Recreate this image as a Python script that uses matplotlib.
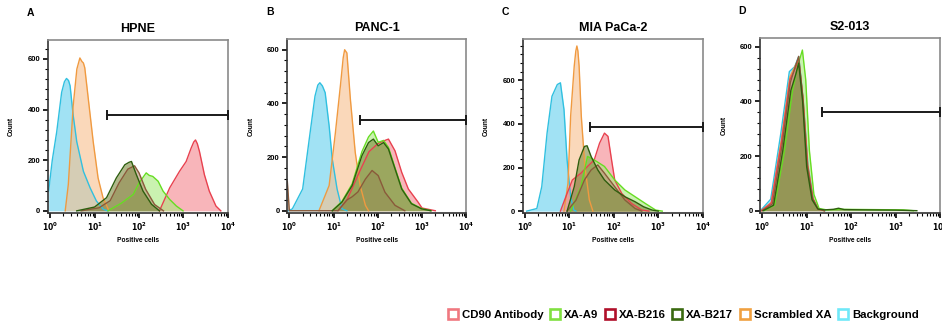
import matplotlib
matplotlib.use("Agg")
import matplotlib.pyplot as plt
from matplotlib.lines import Line2D
from matplotlib.ticker import FixedLocator, NullFormatter

plt.rcParams['font.family'] = ['Liberation Sans', 'DejaVu Sans']
plt.rcParams['font.weight'] = 'bold'

# series names and colours (fill, line, legend square)
series = ['CD90 Antibody', 'XA-A9', 'XA-B216', 'XA-B217', 'Scrambled XA', 'Background']
fills = ['#f4858c', '#a8ea7c', '#b89478', '#7d8a3c', '#f8bf8c', '#62d0ee']
lines = ['#e8414f', '#66dd22', '#8a5a3a', '#2e5e0e', '#f09a40', '#30c0e0']
legend_cols = ['#f07880', '#80e040', '#b0102a', '#3a6a10', '#f0a040', '#70e8f8']
draw_order = ['Background', 'Scrambled XA', 'CD90 Antibody', 'XA-A9', 'XA-B216', 'XA-B217']

# ---- A: HPNE  (positive cells, count) ----
hpne_background = ([0.93, 1.12, 1.41, 1.82, 2.1, 2.34, 2.6, 2.82, 3.31, 3.98, 5.62, 7.94, 11.0, 15.8, 20.0],
                   [80, 200, 312, 468, 510, 523, 515, 494, 377, 273, 156, 91, 39, 6, 0])
hpne_scrambled = ([2.19, 2.57, 3.31, 4.0, 4.68, 5.2, 5.62, 6.03, 7.24, 9.33, 12.0, 15.5, 20.4],
                  [0, 104, 416, 560, 604, 590, 584, 565, 442, 273, 130, 52, 6])
hpne_b217 = ([3.98, 10, 18.6, 30.9, 47.9, 60, 67.6, 87.1, 123, 191, 288],
             [0, 15, 52, 130, 182, 192, 195, 143, 78, 26, 0])
hpne_b216 = ([5.0, 12.6, 22.4, 35.5, 56.2, 79.4, 100, 141, 224, 355],
             [0, 12, 40, 110, 165, 178, 150, 85, 25, 0])
hpne_a9 = ([20, 39.8, 74.1, 100, 145, 170, 204, 269, 347, 490, 692, 977],
           [0, 30, 65, 110, 150, 140, 136, 117, 78, 45, 19, 0])
hpne_cd90 = ([288, 490, 813, 1148, 1479, 1700, 1862, 2050, 2291, 2951, 3802, 5370, 6918],
             [0, 91, 156, 195, 247, 272, 280, 265, 234, 143, 78, 19, 0])
hpne_gate = ([19, 10000], 380)

# ---- B: PANC-1 ----
panc_background = ([0.95, 1.17, 2.0, 2.82, 3.8, 4.4, 4.9, 5.6, 6.46, 7.94, 9.33, 12.0, 15.5, 20.0],
                   [0, 7, 81, 267, 427, 468, 477, 465, 440, 316, 193, 81, 7, 0])
panc_scrambled = ([4.68, 7.94, 11.0, 14.5, 16.5, 17.8, 20, 24, 30.9, 39.8, 52.5, 61.7],
                  [0, 94, 291, 477, 570, 600, 588, 415, 217, 94, 20, 0])
panc_b217 = ([9.33, 15.5, 26.3, 43.7, 61.7, 79.4, 102, 135, 174, 245, 347, 575, 977, 1585],
             [0, 32, 94, 205, 254, 267, 242, 254, 230, 156, 81, 26, 7, 0])
panc_a9 = ([9.33, 15.5, 26.3, 43.7, 61.7, 79.4, 102, 135, 174, 245, 347, 575, 977, 1585],
           [0, 35, 100, 220, 275, 297, 255, 262, 236, 160, 84, 28, 8, 0])
panc_cd90 = ([12.6, 20, 39.8, 63.1, 100, 145, 174, 245, 347, 490, 813, 1000, 1995],
             [0, 40, 150, 220, 250, 262, 267, 223, 143, 81, 32, 10, 0])
panc_b216 = ([0.9, 1.0, 12.6, 20, 26.3, 35.5, 52.5, 74.1, 102, 145, 245, 407],
             [110, 0, 0, 40, 52, 70, 118, 150, 131, 69, 20, 0])
panc_gate = ([38.9, 10000], 338)

# ---- C: MIA PaCa-2 ----
mia_background = ([1.1, 1.86, 2.4, 3.16, 4.07, 5.37, 6.31, 7.59, 8.91, 10.7, 12.6, 14.1],
                  [0, 12, 112, 358, 527, 581, 589, 466, 235, 66, 5, 0])
mia_scrambled = ([7.59, 9.33, 10.7, 12.9, 14.0, 14.8, 15.6, 16.6, 18.6, 22.4, 28.2, 33.9],
                 [0, 128, 435, 666, 735, 758, 735, 666, 435, 205, 51, 0])
mia_b217 = ([8.91, 12.9, 16.6, 21.9, 25.1, 30.9, 43.7, 61.7, 105, 178, 302, 468, 724, 1000],
            [0, 112, 235, 297, 300, 251, 189, 143, 97, 66, 43, 20, 5, 0])
mia_b216 = ([8.91, 14.1, 21.9, 30.9, 43.7, 61.7, 105, 178, 302, 427],
            [0, 50, 143, 189, 212, 174, 112, 51, 12, 0])
mia_cd90 = ([6.31, 8.91, 11.7, 18.2, 25.7, 36.3, 47.9, 61.7, 74.1, 89.1, 105, 151, 251, 427, 617],
            [0, 81, 143, 174, 205, 235, 312, 358, 343, 235, 143, 81, 35, 5, 0])
mia_a9 = ([10.7, 18.2, 25.7, 36.3, 61.7, 105, 178, 302, 513, 871, 1230],
          [0, 112, 251, 235, 205, 143, 97, 66, 35, 5, 0])
mia_gate = ([29.5, 10000], 385)

# ---- D: S2-013 ----
s2_background = ([0.91, 1.55, 2.63, 4.07, 5.37, 6.61, 8.32, 10.7, 14.1, 18.2, 25.7],
                 [0, 42, 285, 509, 527, 564, 406, 164, 42, 6, 0])
s2_scrambled = ([0.95, 1.6, 2.7, 4.2, 5.5, 6.6, 8.3, 10.5, 13.8, 18, 25],
                [0, 30, 260, 490, 530, 555, 410, 170, 45, 6, 0])
s2_cd90 = ([0.95, 1.6, 2.7, 4.2, 5.5, 6.6, 8.3, 10.5, 13.8, 18, 25],
           [0, 28, 250, 480, 520, 550, 405, 165, 44, 6, 0])
s2_b216 = ([1.0, 1.7, 2.8, 4.3, 5.6, 6.6, 8.1, 10.2, 13.5, 18, 25],
           [0, 25, 240, 470, 530, 565, 420, 170, 45, 6, 0])
s2_b217 = ([1.05, 1.8, 2.9, 4.4, 5.7, 6.6, 8.1, 10, 13.2, 17.8, 25, 40, 52, 70, 200, 1000, 3000],
           [0, 20, 220, 440, 500, 540, 400, 160, 40, 6, 3, 5, 9, 4, 3, 2, 0])
s2_a9 = ([1.1, 1.9, 3.1, 4.8, 6.3, 8.0, 9.5, 11.5, 14.5, 19, 28, 60, 300, 1500, 2500],
         [0, 20, 210, 440, 530, 588, 480, 220, 60, 8, 3, 5, 4, 3, 0])
s2_gate = ([21.9, 10000], 360)

panels = [
    ('A', 'HPNE', [0.051, 0.345, 0.191, 0.532], (0.9, 10000), 675,
     {'CD90 Antibody': hpne_cd90, 'XA-A9': hpne_a9, 'XA-B216': hpne_b216,
      'XA-B217': hpne_b217, 'Scrambled XA': hpne_scrambled, 'Background': hpne_background},
     hpne_gate),
    ('B', 'PANC-1', [0.305, 0.345, 0.190, 0.535], (0.9, 10000), 640,
     {'CD90 Antibody': panc_cd90, 'XA-A9': panc_a9, 'XA-B216': panc_b216,
      'XA-B217': panc_b217, 'Scrambled XA': panc_scrambled, 'Background': panc_background},
     panc_gate),
    ('C', 'MIA PaCa-2', [0.555, 0.345, 0.191, 0.535], (0.9, 10000), 790,
     {'CD90 Antibody': mia_cd90, 'XA-A9': mia_a9, 'XA-B216': mia_b216,
      'XA-B217': mia_b217, 'Scrambled XA': mia_scrambled, 'Background': mia_background},
     mia_gate),
    ('D', 'S2-013', [0.807, 0.345, 0.191, 0.538], (0.9, 10000), 632,
     {'CD90 Antibody': s2_cd90, 'XA-A9': s2_a9, 'XA-B216': s2_b216,
      'XA-B217': s2_b217, 'Scrambled XA': s2_scrambled, 'Background': s2_background},
     s2_gate),
]

fig = plt.figure(figsize=(9.42, 3.25), dpi=100)

for letter, title, rect, xlim, ytop, data, gate in panels:
    ax = fig.add_axes(rect)
    for name in draw_order:
        i = series.index(name)
        x, y = data[name]
        ax.fill_between(x, 0, y, color=fills[i], alpha=0.6, lw=0)
        ax.plot(x, y, color=lines[i], lw=1.0, solid_joinstyle='round')
    # gate bar
    ax.plot(gate[0], [gate[1], gate[1]], color='#1a1a1a', lw=1.4,
            marker='|', ms=7, mew=1.4, clip_on=False, zorder=5)

    ax.set_xscale('log')
    ax.set_xlim(*xlim)
    ax.set_ylim(-8, ytop)
    ax.xaxis.set_major_locator(FixedLocator([1, 10, 100, 1000, 10000]))
    ax.set_xticklabels([r'$\mathbf{10^{%d}}$' % k for k in range(5)])
    ax.xaxis.set_minor_locator(FixedLocator([m * 10 ** k for k in range(4) for m in range(2, 10)]))
    ax.xaxis.set_minor_formatter(NullFormatter())
    ax.set_yticks([0, 200, 400, 600])
    ax.yaxis.set_minor_locator(FixedLocator(list(range(40, int(ytop), 40))))
    ax.tick_params(axis='both', which='major', length=3.5, width=1.2, labelsize=5.5, pad=2)
    ax.tick_params(axis='both', which='minor', length=2, width=0.8)
    for lab in ax.get_yticklabels():
        lab.set_fontweight('bold')
    for s in ax.spines.values():
        s.set_color('#8a8a8a')
        s.set_linewidth(1.2)
    ax.spines['left'].set_color('#333333')
    ax.spines['bottom'].set_color('#333333')

    ax.set_ylabel('Count', fontsize=4.8, fontweight='bold', labelpad=9)
    ax.set_xlabel('Positive cells', fontsize=4.8, fontweight='bold', labelpad=3)
    ax.set_title(title, fontsize=9, fontweight='bold', pad=6)
    ax.text(-0.12, 1.155, letter, transform=ax.transAxes, fontsize=7.5,
            fontweight='bold', va='center', ha='left')

handles = [Line2D([], [], ls='none', marker='s', ms=7, mfc='none',
                  mec=legend_cols[i], mew=1.9) for i in range(len(series))]
fig.legend(handles, series, loc='center right', bbox_to_anchor=(0.986, 0.03),
           ncol=6, frameon=False, handletextpad=0.3,
           columnspacing=0.5, handlelength=1.0, prop={'weight': 'bold', 'size': 8.2})

fig.savefig('out.png', dpi=100)
